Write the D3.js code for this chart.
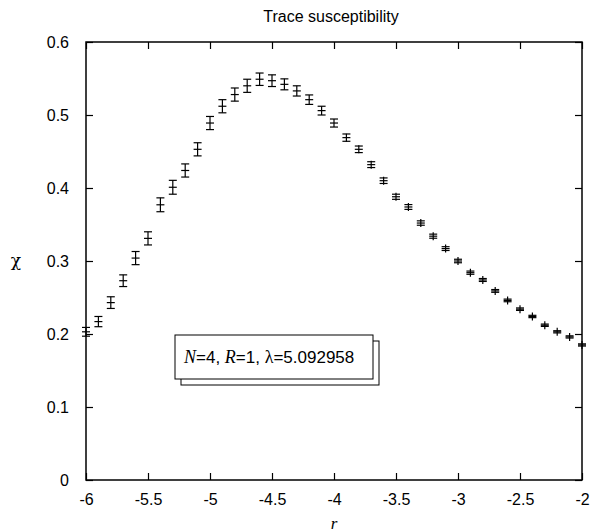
<!DOCTYPE html>
<html>
<head>
<meta charset="utf-8">
<script src="https://cdn.jsdelivr.net/npm/d3@7"></script>
<style>
  body { margin: 0; background: #fff; }
  svg { display: block; }
  text { font-family: "Liberation Sans", Arial, sans-serif; fill: #000; }
</style>
</head>
<body>
<svg width="593" height="532"></svg>
<script>
// chart values
var rValues = [-6.0, -5.9, -5.8, -5.7, -5.6, -5.5, -5.4, -5.3, -5.2, -5.1,
               -5.0, -4.9, -4.8, -4.7, -4.6, -4.5, -4.4, -4.3, -4.2, -4.1,
               -4.0, -3.9, -3.8, -3.7, -3.6, -3.5, -3.4, -3.3, -3.2, -3.1,
               -3.0, -2.9, -2.8, -2.7, -2.6, -2.5, -2.4, -2.3, -2.2, -2.1, -2.0];
var chiValues = [0.203, 0.217, 0.243, 0.273, 0.304, 0.331, 0.377, 0.401, 0.424, 0.453,
                 0.489, 0.512, 0.528, 0.540, 0.549, 0.547, 0.542, 0.533, 0.521, 0.506,
                 0.489, 0.469, 0.453, 0.432, 0.410, 0.388, 0.374, 0.352, 0.334, 0.317,
                 0.300, 0.284, 0.274, 0.259, 0.246, 0.234, 0.224, 0.212, 0.203, 0.196, 0.185];
var chiErrors = [0.006, 0.007, 0.008, 0.008, 0.009, 0.009, 0.0095, 0.0095, 0.009, 0.009,
                 0.009, 0.009, 0.009, 0.009, 0.0085, 0.008, 0.0075, 0.007, 0.0065, 0.006,
                 0.0055, 0.005, 0.0045, 0.004, 0.0038, 0.0035, 0.0033, 0.003, 0.0028, 0.0026,
                 0.0024, 0.0022, 0.002, 0.0019, 0.0018, 0.0017, 0.0016, 0.0016, 0.0015, 0.0015, 0.0015];
var xTicks = [-6, -5.5, -5, -4.5, -4, -3.5, -3, -2.5, -2];
var yTicks = [0, 0.1, 0.2, 0.3, 0.4, 0.5, 0.6];
var titleText = "Trace susceptibility";
var legendParts = [["N", true], ["=4, ", false], ["R", true], ["=1, ", false], ["\u03bb", "sym"], ["=5.092958", false]];

var svg = d3.select("svg");
var pLeft = 86, pRight = 582, pTop = 42, pBottom = 480;

var xScale = d3.scaleLinear().domain([-6, -2]).range([pLeft, pRight]);
var yScale = d3.scaleLinear().domain([0, 0.6]).range([pBottom, pTop]);

// axes, ticks pointing inward on all four sides
var fmt = function(d) { return String(d); };
svg.append("g")
  .attr("transform", "translate(0," + pBottom + ")")
  .call(d3.axisBottom(xScale).tickValues(xTicks).tickSize(-7).tickPadding(14).tickFormat(fmt));
svg.append("g")
  .attr("transform", "translate(0," + pTop + ")")
  .call(d3.axisTop(xScale).tickValues(xTicks).tickSize(-7).tickFormat(""));
svg.append("g")
  .attr("transform", "translate(" + pLeft + ",0)")
  .call(d3.axisLeft(yScale).tickValues(yTicks).tickSize(-7).tickPadding(17).tickFormat(fmt));
svg.append("g")
  .attr("transform", "translate(" + pRight + ",0)")
  .call(d3.axisRight(yScale).tickValues(yTicks).tickSize(-7).tickFormat(""));

svg.selectAll(".domain").remove();
svg.selectAll(".tick line").attr("stroke", "#000").attr("stroke-width", 1.2);
svg.selectAll(".tick text")
  .style("font-family", "'Liberation Sans', Arial, sans-serif")
  .style("font-size", "16px").attr("fill", "#000");

svg.append("rect")
  .attr("x", pLeft).attr("y", pTop)
  .attr("width", pRight - pLeft).attr("height", pBottom - pTop)
  .attr("fill", "none").attr("stroke", "#000").attr("stroke-width", 1.5);

// title and axis labels
svg.append("text")
  .attr("x", 331).attr("y", 22)
  .attr("text-anchor", "middle")
  .style("font-size", "16px")
  .text(titleText);

svg.append("text")
  .attr("x", 16).attr("y", 266)
  .attr("text-anchor", "middle")
  .style("font-family", "'DejaVu Serif', 'Liberation Serif', serif")
  .style("font-size", "17px")
  .text("\u03c7");

svg.append("text")
  .attr("x", 334).attr("y", 529)
  .attr("text-anchor", "middle")
  .style("font-family", "'Liberation Serif', 'Times New Roman', serif")
  .style("font-style", "italic")
  .style("font-size", "17px")
  .text("r");

// legend box with shadow
var lg = svg.append("g");
lg.append("rect")
  .attr("x", 181).attr("y", 341).attr("width", 198).attr("height", 44)
  .attr("fill", "#fff").attr("stroke", "#000").attr("stroke-width", 1);
lg.append("rect")
  .attr("x", 175).attr("y", 335).attr("width", 198).attr("height", 44)
  .attr("fill", "#fff").attr("stroke", "#000").attr("stroke-width", 1);
var lt = lg.append("text").attr("x", 184).attr("y", 363).style("font-size", "17px");
legendParts.forEach(function(p) {
  var ts = lt.append("tspan").text(p[0]);
  if (p[1] === true) {
    ts.style("font-family", "'Liberation Serif', 'Times New Roman', serif").style("font-style", "italic").style("font-size", "18px");
  } else if (p[1] === "sym") {
    ts.style("font-family", "'Liberation Serif', 'Times New Roman', serif").style("font-size", "18px");
  }
});

// error bars
var pts = svg.append("g").attr("stroke", "#000").attr("stroke-width", 1.2).attr("fill", "none");
var cap = 4, mark = 4;
rValues.forEach(function(r, i) {
  var cx = xScale(r);
  var y0 = yScale(chiValues[i]);
  var yl = yScale(chiValues[i] - chiErrors[i]);
  var yh = yScale(chiValues[i] + chiErrors[i]);
  var g = pts.append("g");
  g.append("line").attr("x1", cx).attr("x2", cx).attr("y1", Math.min(yh, y0 - mark)).attr("y2", Math.max(yl, y0 + mark));
  g.append("line").attr("x1", cx - cap).attr("x2", cx + cap).attr("y1", yh).attr("y2", yh);
  g.append("line").attr("x1", cx - cap).attr("x2", cx + cap).attr("y1", yl).attr("y2", yl);
  g.append("line").attr("x1", cx - mark).attr("x2", cx + mark).attr("y1", y0).attr("y2", y0);
});
</script>
</body>
</html>
